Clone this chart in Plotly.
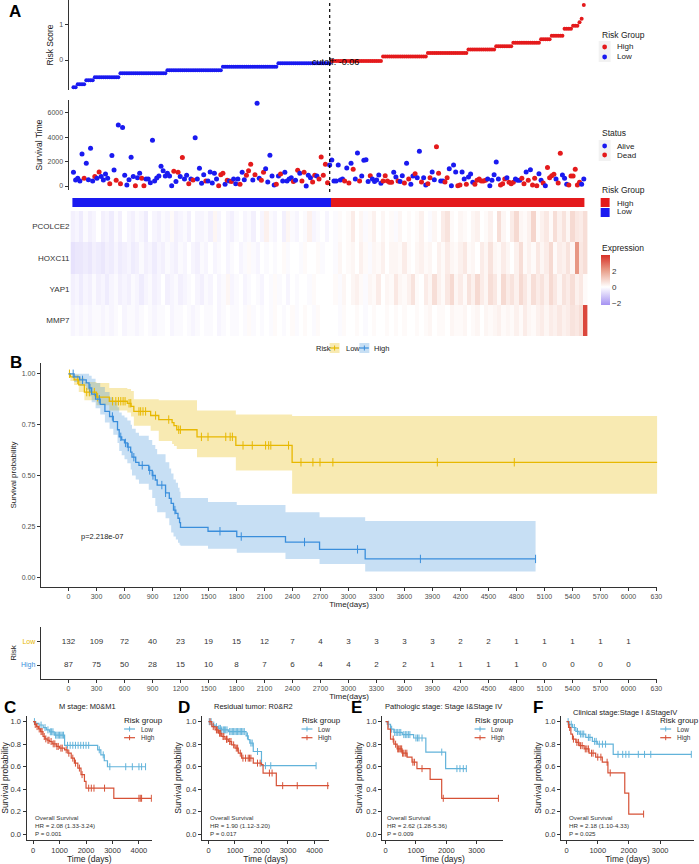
import plotly.graph_objects as go

W, H = 699, 864
def px(x): return x / W
def py(y): return 1 - y / H

FONT = "Liberation Sans, Arial, sans-serif"
RED = "#E41A1C"
BLUE = "#1A1AF0"

# ---------------- Panel A data ----------------
risk_levels_low = [-0.78, -0.69, -0.58, -0.49, -0.38, -0.29, -0.19, -0.09]
risk_counts_low = [2, 4, 4, 12, 22, 26, 26, 25]
risk_levels_high = [-0.03, 0.10, 0.20, 0.30, 0.39, 0.49, 0.59, 0.69, 0.89, 0.98, 1.08, 1.18, 1.57]
risk_counts_high = [24, 21, 19, 13, 8, 13, 5, 6, 4, 3, 1, 1, 1]
risk_cutoff = -0.06

survival_time = [
    1120, 490, 630, 410, 2630, 630, 1860, 520, 3100, 410,
    770, 630, 1150, 770, 490, 990, 630, 190, 2490, 1320,
    470, 5010, 190, 4790, 880, 80, 520, 2360, 770, 30,
    680, 1040, 630, 30, 580, 580, 270, 3750, 410, 660,
    820, 1620, 1260, 820, 1040, 820, 30, 1210, 360, 1120,
    770, 2330, 580, 880, 190, 580, 490, 3950, 580, 1450,
    220, 930, 410, 410, 1150, 250, 1040, 580, 30, 930,
    1040, 140, 470, 410, 360, 580, 190, 580, 140, 1120,
    520, 880, 1260, 1780, 490, 930, 6790, 630, 470, 1120,
    1420, 330, 2520, 820, 80, 140, 820, 990, 410, 1120,
    410, 580, 680, 360, 470, 1290, 1040, 410, 1120, 0,
    880, 680, 330, 880, 820, 580, 2380, 880, 1780, 270,
    1730,
    2140, 410, 410, 1730, 490, 580, 410, 1480, 250, 1860,
    1370, 580, 2710, 410, 820, 2110, 2160, 360, 850, 580,
    360, 490, 900, 220, 410, 850, 410, 300, 300, 1120,
    740, 410, 360, 850, 250, 1860, 580, 140, 820, 1010,
    680, 2850, 330, 680, 80, 190, 680, 1150, 520, 3210,
    1040, 410, 410, 330, 680, 1420, 30, 1730, 1150, 30,
    80, 1150, 580, 140, 740, 990, 300, 140, 470, 580,
    410, 410, 470, 580, 30, 470, 930, 1970, 580, 80,
    190, 580, 680, 300, 190, 300, 580, 470, 470, 630,
    190, 1150, 470, 1340, 80, 630, 30, 1010, 470, 250,
    30, 1510, 680, 850, 960, 580, 250, 2680, 900, 630,
    140, 80, 820, 820, 1370, 80, 300, 140, 580,
]
status_dead = [
    0, 0, 0, 0, 0, 1, 0, 0, 0, 0,
    1, 0, 1, 0, 0, 0, 0, 1, 0, 0,
    1, 0, 1, 0, 0, 0, 0, 0, 0, 1,
    0, 0, 1, 1, 0, 0, 0, 0, 0, 0,
    0, 0, 0, 0, 0, 0, 0, 1, 0, 1,
    0, 1, 0, 0, 1, 0, 1, 0, 0, 0,
    0, 0, 1, 0, 0, 0, 0, 0, 1, 1,
    1, 0, 1, 0, 1, 0, 0, 0, 1, 0,
    0, 1, 1, 1, 0, 1, 0, 0, 1, 1,
    0, 0, 0, 0, 0, 1, 0, 1, 0, 0,
    0, 0, 0, 1, 0, 1, 0, 1, 1, 0,
    0, 0, 1, 1, 0, 1, 1, 1, 1, 1,
    0,
    0, 0, 0, 0, 0, 0, 1, 0, 1, 0,
    1, 0, 0, 1, 0, 0, 0, 0, 1, 0,
    0, 0, 0, 0, 1, 1, 1, 1, 1, 0,
    0, 1, 0, 0, 1, 0, 1, 0, 0, 1,
    0, 0, 1, 0, 0, 1, 1, 0, 0, 1,
    1, 0, 0, 1, 1, 0, 0, 0, 0, 1,
    1, 0, 0, 1, 0, 0, 0, 1, 1, 1,
    1, 1, 1, 0, 0, 0, 0, 0, 0, 1,
    1, 1, 0, 1, 1, 1, 0, 0, 0, 1,
    1, 0, 1, 0, 1, 1, 1, 0, 0, 1,
    0, 1, 1, 1, 1, 0, 1, 1, 0, 0,
    0, 1, 1, 1, 1, 1, 1, 0, 0,
]

genes = ["PCOLCE2", "HOXC11", "YAP1", "MMP7"]
expr_PCOLCE2 = [
    -0.3, -0.2, -0.4, -0.1, -0.3, -0.2, 0.0, -0.3, -0.2, -0.4, -0.1, -0.3, 0.0, -0.2, -0.3,
    -0.1, -0.2, -0.4, 0.0, -0.2, -0.3, -0.1, -0.2, 0.1, -0.3, -0.2, -0.1, -0.3, 0.0, -0.2,
    -0.2, -0.1, -0.3, 0.2, -0.2, 0.0, -0.2, -0.3, -0.1, 0.0, -0.2, -0.1, -0.3, 0.0, -0.2,
    0.3, -0.1, -0.2, 0.0, -0.3, 0.2, -0.1, -0.2, 0.0, -0.1, 0.3, -0.2, -0.1, 0.0, -0.2,
    0.0, -0.1, 0.1, 0.0, 0.1, 0.4, 0.0, 0.2, -0.1, 0.1, 0.3, 0.0, 0.2, 0.0, 0.1,
    -0.1, 0.2, 0.0, 0.1, 0.0, 0.1, 0.3, 0.0, -0.1, 0.2, 0.0, 0.4, 0.6, 0.1, 0.0,
    0.2, 0.1, 0.0, 0.2, 0.3, 0.0, 0.1, 0.3, 0.0, 0.7, 0.2, 0.0, 0.4, 0.8, 0.2,
    0.1, 0.3, 0.9, 0.1, 0.3, 0.5, 0.1, 0.7, 0.3, 0.6, 0.2, 0.8, 0.5, 0.4, 0.7,
]
expr_HOXC11 = [
    -0.6, -0.5, -0.5, -0.4, -0.5, -0.3, -0.4, -0.5, -0.3, -0.4, -0.2, -0.4, -0.3, -0.2, -0.4,
    -0.3, -0.1, -0.3, -0.2, -0.4, -0.2, -0.3, -0.1, -0.2, -0.3, -0.1, -0.2, 0.0, -0.2, -0.3,
    -0.1, -0.2, 0.0, -0.2, -0.1, 0.0, -0.2, -0.1, 0.0, -0.2, -0.1, 0.1, -0.1, -0.2, 0.0,
    -0.1, 0.0, -0.1, 0.0, 0.1, -0.1, 0.0, 0.0, -0.1, 0.1, 0.0, 0.0, 0.1, -0.1, 0.0,
    0.0, -0.1, 0.2, 0.0, 0.1, 0.2, 0.0, 0.3, 0.1, -0.1, 0.2, 0.1, 0.3, 0.0, 0.2,
    0.2, 0.1, 0.4, 0.1, 0.0, 0.2, 0.3, 0.1, 0.2, 0.0, 0.3, 0.1, 0.4, 0.2, 0.1,
    0.3, 0.5, 0.1, 0.2, 0.0, 0.4, 0.2, 0.6, 0.2, 0.1, 0.4, 0.2, 0.0, 0.3, 0.7,
    0.1, 0.3, 0.1, 0.5, 0.2, 0.4, 0.8, 0.1, 0.4, 0.3, 0.6, 0.2, 2.2, 0.5, 0.7,
]
expr_YAP1 = [
    -0.3, -0.2, -0.4, -0.2, -0.3, -0.1, -0.3, -0.2, -0.4, -0.2, -0.1, -0.3, -0.2, -0.3, -0.1,
    -0.2, -0.4, -0.2, -0.1, -0.3, -0.2, 0.0, -0.3, -0.2, -0.1, -0.3, -0.2, -0.1, 0.0, -0.2,
    -0.3, -0.1, -0.2, 0.0, -0.2, -0.1, 0.2, -0.2, -0.1, 0.0, -0.2, -0.1, 0.0, -0.1, -0.2,
    0.0, -0.1, 0.1, -0.1, 0.0, -0.2, 0.0, -0.1, 0.0, 0.0, -0.1, 0.1, 0.0, 0.0, 0.0,
    0.0, 0.1, -0.1, 0.2, 0.0, 0.2, 0.3, 0.1, -0.1, 0.2, 0.1, 0.4, 0.0, 0.2, 0.1,
    0.5, 0.2, 0.1, 0.3, 0.6, 0.1, 0.0, 0.4, 0.2, 0.7, 0.3, 0.1, 0.5, 0.8, 0.2,
    0.4, 0.1, 0.6, 0.3, 0.8, 0.4, 0.2, 0.7, 0.5, 0.1, 0.8, 0.4, 0.6, 0.3, 0.8,
    0.5, 0.2, 0.7, 0.4, 0.6, 0.3, 0.8, 0.5, 0.2, 0.6, 0.4, 0.7, 0.3, 0.5, 0.1,
]
expr_MMP7 = [
    -0.2, -0.1, -0.2, -0.1, -0.2, -0.1, -0.1, -0.2, -0.1, -0.2, -0.1, 0.0, -0.2, -0.1, -0.1,
    -0.2, -0.1, 0.0, -0.1, -0.2, -0.1, -0.1, 0.0, -0.2, -0.1, -0.1, 0.0, -0.1, -0.2, -0.1,
    0.0, -0.1, -0.1, 0.0, -0.2, -0.1, 0.0, -0.1, -0.1, 0.0, -0.1, 0.1, -0.1, 0.0, -0.1,
    0.0, -0.1, 0.1, 0.0, -0.1, 0.0, 0.1, -0.1, 0.0, 0.1, 0.0, -0.1, 0.1, 0.0, 0.0,
    0.0, 0.0, -0.1, 0.1, 0.0, 0.0, 0.1, 0.0, -0.1, 0.0, 0.1, 0.0, 0.0, 0.1, 0.0,
    0.1, 0.0, 0.1, 0.0, 0.0, 0.1, 0.0, 0.1, 0.2, 0.0, 0.1, 0.1, 0.0, 0.2, 0.1,
    0.1, 0.2, 0.0, 0.1, 0.2, 0.0, 0.2, 0.1, 0.2, 0.3, 0.1, 0.2, 0.1, 0.3, 0.1,
    0.4, 0.2, 0.1, 0.3, 0.4, 0.2, 0.4, 0.3, 0.5, 0.3, 0.4, 0.6, 0.5, 0.7, 3.6,
]

# ---------------- Panel B data ----------------
b_low_t = [0, 20, 60, 110, 170, 300, 437, 630, 670, 700, 880, 967, 1110, 1130, 1160, 1377, 1793, 2396]
b_low_s = [1.0, 0.985, 0.97, 0.945, 0.91, 0.885, 0.865, 0.855, 0.84, 0.815, 0.795, 0.775, 0.76, 0.745, 0.725, 0.69, 0.648, 0.565]
b_low_lo = [1.0, 0.965, 0.945, 0.91, 0.87, 0.845, 0.82, 0.81, 0.79, 0.745, 0.72, 0.67, 0.655, 0.645, 0.63, 0.59, 0.525, 0.41]
b_low_hi = [1.0, 1.0, 0.995, 0.98, 0.96, 0.955, 0.93, 0.925, 0.915, 0.875, 0.875, 0.87, 0.87, 0.87, 0.87, 0.82, 0.80, 0.793]
b_low_end = 6310
b_low_cens = [10, 99, 195, 223, 277, 312, 472, 507, 535, 560, 585, 606, 649, 667, 755, 773, 798, 826, 933,
              1074, 1181, 1199, 1424, 1495, 1685, 1732, 1756, 1870, 1969, 2112, 2145, 2168, 2358, 2491,
              2619, 2695, 2833, 3952, 4777]

b_high_t = [0, 60, 120, 190, 220, 248, 290, 340, 390, 440, 480, 525, 543, 570, 600, 630, 666, 680, 720,
            755, 860, 897, 930, 950, 1040, 1080, 1100, 1125, 1150, 1173, 1190, 1200, 1495, 1803, 2325, 2690, 3179]
b_high_s = [1.0, 0.985, 0.97, 0.955, 0.93, 0.9, 0.875, 0.85, 0.815, 0.79, 0.765, 0.725, 0.69, 0.675, 0.66,
            0.64, 0.615, 0.59, 0.565, 0.55, 0.525, 0.5, 0.478, 0.453, 0.415, 0.388, 0.363, 0.33, 0.314,
            0.29, 0.268, 0.245, 0.226, 0.2, 0.173, 0.137, 0.09]
b_high_lo = [1.0, 0.96, 0.94, 0.92, 0.89, 0.86, 0.83, 0.80, 0.76, 0.73, 0.70, 0.66, 0.62, 0.60, 0.58,
             0.56, 0.53, 0.50, 0.48, 0.46, 0.43, 0.39, 0.35, 0.32, 0.29, 0.255, 0.22, 0.20, 0.185,
             0.17, 0.16, 0.155, 0.14, 0.12, 0.09, 0.065, 0.028]
b_high_hi = [1.0, 1.0, 1.0, 1.0, 0.99, 0.975, 0.955, 0.935, 0.91, 0.885, 0.865, 0.835, 0.81, 0.795, 0.785,
             0.77, 0.75, 0.73, 0.71, 0.695, 0.675, 0.65, 0.63, 0.605, 0.565, 0.535, 0.51, 0.48, 0.465,
             0.44, 0.42, 0.39, 0.37, 0.355, 0.32, 0.295, 0.277]
b_high_end = 5005
b_high_cens = [50, 150, 230, 330, 470, 560, 610, 640, 700, 790, 870, 905, 1000, 1040, 1140,
               1623, 1851, 2529, 3097, 3771, 5005]
b_pval = "p=2.218e-07"

table_times = [0, 300, 600, 900, 1200, 1500, 1800, 2100, 2400, 2700, 3000, 3300, 3600, 3900,
               4200, 4500, 4800, 5100, 5400, 5700, 6000]
table_low = [132, 109, 72, 40, 23, 19, 15, 12, 7, 4, 3, 3, 3, 3, 2, 2, 1, 1, 1, 1, 1]
table_high = [87, 75, 50, 28, 15, 10, 8, 7, 6, 4, 4, 2, 2, 1, 1, 1, 1, 0, 0, 0, 0]
b_tick_vals = table_times + [6300]
b_tick_text = [str(t) for t in table_times] + ["630"]

# ---------------- Panels C-F data ----------------
c_low_t = [0, 100, 220, 380, 500, 620, 800, 1190, 2440, 2560, 2690, 2810]
c_low_s = [1.0, 0.985, 0.97, 0.947, 0.927, 0.91, 0.88, 0.79, 0.75, 0.705, 0.653, 0.6]
c_low_end = 4250
c_low_cens = [50, 300, 450, 560, 650, 700, 750, 850, 900, 950, 1000, 1050, 1100, 1150, 1300, 1400, 1500,
              1600, 1700, 1800, 1900, 2000, 2100, 2500, 2650, 2900, 3500, 3750, 4000, 4100, 4250]
c_high_t = [0, 60, 125, 200, 280, 375, 450, 530, 625, 720, 875, 1000, 1190, 1310, 1440, 1560, 1690, 1810, 1940, 2000, 3050]
c_high_s = [1.0, 0.975, 0.956, 0.935, 0.912, 0.868, 0.847, 0.835, 0.824, 0.803, 0.78, 0.765, 0.75, 0.72,
            0.676, 0.632, 0.588, 0.53, 0.47, 0.41, 0.32]
c_high_end = 4470
c_high_cens = [80, 150, 230, 300, 340, 420, 480, 560, 600, 680, 760, 820, 900, 950, 1050, 1100, 1250, 1350,
               1500, 1600, 1750, 1850, 2100, 2200, 2300, 2700, 4000, 4050, 4100, 4470]

d_low_t = [0, 120, 250, 370, 500, 750, 1420, 1500, 1560, 1690, 2000]
d_low_s = [1.0, 0.97, 0.956, 0.94, 0.927, 0.912, 0.873, 0.84, 0.81, 0.735, 0.609]
d_low_end = 4060
d_low_cens = [30, 100, 200, 300, 400, 450, 500, 560, 600, 650, 700, 800, 850, 900, 950, 1000, 1050, 1100,
              1150, 1200, 1250, 1300, 1350, 1470, 1600, 1650, 1850, 2150, 2350, 4060]
d_high_t = [0, 125, 250, 375, 500, 625, 750, 875, 1000, 1125, 1250, 1690, 2000, 2060, 2560]
d_high_s = [1.0, 0.956, 0.927, 0.897, 0.868, 0.844, 0.824, 0.794, 0.765, 0.72, 0.676, 0.632, 0.618, 0.544, 0.432]
d_high_end = 4560
d_high_cens = [60, 180, 300, 330, 420, 460, 550, 580, 680, 700, 800, 850, 950, 1050, 1100, 1200, 1300, 1400,
               1500, 1550, 1600, 1850, 1950, 2300, 2400, 2800, 3350, 4500]

e_low_t = [0, 54, 163, 272, 550, 924, 1326, 1978]
e_low_s = [1.0, 0.977, 0.933, 0.904, 0.885, 0.855, 0.73, 0.583]
e_low_end = 2660
e_low_cens = [100, 200, 300, 350, 400, 450, 500, 600, 650, 700, 750, 800, 1000, 1050, 1100, 1200, 1850,
              2350, 2450, 2560, 2660]
e_high_t = [0, 76, 163, 272, 380, 543, 707, 870, 1033, 1467, 1848]
e_high_s = [1.0, 0.933, 0.845, 0.8, 0.758, 0.72, 0.685, 0.64, 0.583, 0.487, 0.32]
e_high_end = 3717
e_high_cens = [250, 330, 400, 430, 470, 500, 530, 560, 600, 650, 700, 900, 950, 1200, 1900, 3717]

f_low_t = [0, 85, 191, 297, 403, 615, 827, 986, 1495]
f_low_s = [1.0, 0.977, 0.948, 0.913, 0.89, 0.86, 0.825, 0.80, 0.71]
f_low_end = 4000
f_low_cens = [50, 150, 250, 350, 450, 500, 550, 700, 750, 900, 950, 1050, 1150, 1250, 1650, 1800, 1900,
              2000, 2300, 2500, 2700, 4000]
f_high_t = [0, 64, 138, 191, 297, 403, 562, 721, 933, 1145, 1326, 1866, 1994]
f_high_s = [1.0, 0.948, 0.89, 0.845, 0.816, 0.787, 0.758, 0.72, 0.685, 0.64, 0.545, 0.365, 0.18]
f_high_end = 2470
f_high_cens = [100, 220, 330, 380, 450, 500, 600, 650, 700, 800, 850, 1000, 1100, 1300, 1400, 2470]

sub_titles = ["M stage: M0&M1", "Residual tumor: R0&R2", "Pathologic stage: Stage I&Stage IV",
              "Clinical stage:Stage I &StageIV"]
sub_hr = ["HR = 2.08 (1.33-3.24)", "HR = 1.90 (1.12-3.20)", "HR = 2.62 (1.28-5.36)", "HR = 2.18 (1.10-4.33)"]
sub_p = ["P = 0.001", "P = 0.017", "P = 0.009", "P = 0.025"]

# ---------------- build ----------------
fig = go.Figure()
shapes = []
annotations = []

def text(t, x, y, size=8, color="#222222", xanchor="left", yanchor="middle", bold=False):
    annotations.append(dict(text=f"<b>{t}</b>" if bold else t, x=px(x), y=py(y), xref="paper", yref="paper",
                            xanchor=xanchor, yanchor=yanchor, showarrow=False,
                            font=dict(size=size, color=color, family=FONT)))

def rect(x0, y0, x1, y1, fill):
    shapes.append(dict(type="rect", xref="paper", yref="paper", x0=px(x0), x1=px(x1), y0=py(y1), y1=py(y0),
                       fillcolor=fill, line=dict(width=0), layer="above"))

def seg(x0, y0, x1, y1, color, width=1.0):
    shapes.append(dict(type="line", xref="paper", yref="paper", x0=px(x0), x1=px(x1), y0=py(y0), y1=py(y1),
                       line=dict(color=color, width=width), layer="above"))

def dot(x, y, color, r=2.4):
    shapes.append(dict(type="circle", xref="paper", yref="paper", x0=px(x - r), x1=px(x + r), y0=py(y + r),
                       y1=py(y - r), fillcolor=color, line=dict(width=0), layer="above"))

# Panel A
risk_scores = []
for lv, n in zip(risk_levels_low + risk_levels_high, risk_counts_low + risk_counts_high):
    risk_scores += [lv] * n
idx = list(range(1, len(risk_scores) + 1))
is_high = [1 if s > risk_cutoff else 0 for s in risk_scores]
fig.add_trace(go.Scatter(x=idx, y=risk_scores, mode="markers", xaxis="x", yaxis="y",
                         marker=dict(size=4, color=[RED if h else BLUE for h in is_high]),
                         showlegend=False, hoverinfo="skip"))
n_low = sum(1 for h in is_high if h == 0)

sidx = list(range(1, len(survival_time) + 1))
fig.add_trace(go.Scatter(x=sidx, y=survival_time, mode="markers", xaxis="x2", yaxis="y2",
                         marker=dict(size=5, color=[RED if d else BLUE for d in status_dead]),
                         showlegend=False, hoverinfo="skip"))

fig.add_trace(go.Heatmap(z=[is_high], x=idx, y=[0], xaxis="x3", yaxis="y3", zmin=0, zmax=1,
                         colorscale=[[0, BLUE], [1, RED]], showscale=False, hoverinfo="skip"))

expr = [expr_PCOLCE2, expr_HOXC11, expr_YAP1, expr_MMP7]
fig.add_trace(go.Heatmap(z=expr, x0=1.5, dx=2, y=genes, xaxis="x4", yaxis="y4", zmin=-2.25, zmax=4.0,
                         colorscale=[[0, "#A592F2"], [0.36, "#FFFFFF"], [0.68, "#E9A28E"], [1, "#D73027"]],
                         hoverinfo="skip",
                         colorbar=dict(x=px(605), xanchor="left", y=py(280), yanchor="middle",
                                       len=50, lenmode="pixels", thickness=9, thicknessmode="pixels",
                                       tickvals=[-2, 0, 2], ticks="", outlinewidth=0, xpad=0, ypad=0,
                                       tickfont=dict(size=8, color="#333333", family=FONT))))

shapes.append(dict(type="line", xref="x", yref="paper", x0=n_low, x1=n_low, y0=py(192), y1=py(0),
                   line=dict(color="black", width=1.2, dash="dot")))
annotations.append(dict(text=f"cutoff: {risk_cutoff}", x=n_low + 2.5, y=risk_cutoff, xref="x", yref="y",
                        showarrow=False, font=dict(size=9, color="black", family=FONT)))

# ---------------- KM helpers ----------------
def step_at(times, surv, t):
    v = surv[0]
    for ti, si in zip(times, surv):
        if ti <= t:
            v = si
        else:
            break
    return v

def add_ci(times, lo, hi, end, fillcol, xa, ya):
    fig.add_trace(go.Scatter(x=times + [end], y=lo + [lo[-1]], mode="lines", line=dict(width=0, shape="hv"),
                             xaxis=xa, yaxis=ya, showlegend=False, hoverinfo="skip"))
    fig.add_trace(go.Scatter(x=times + [end], y=hi + [hi[-1]], mode="lines", line=dict(width=0, shape="hv"),
                             fill="tonexty", fillcolor=fillcol, xaxis=xa, yaxis=ya, showlegend=False,
                             hoverinfo="skip"))

def add_km(times, surv, end, cens, color, xa, ya, lw=1.3, ms=6):
    fig.add_trace(go.Scatter(x=times + [end], y=surv + [surv[-1]], mode="lines",
                             line=dict(color=color, width=lw, shape="hv"), xaxis=xa, yaxis=ya,
                             showlegend=False, hoverinfo="skip"))
    fig.add_trace(go.Scatter(x=cens, y=[step_at(times, surv, c) for c in cens], mode="markers",
                             marker=dict(symbol="line-ns-open", size=ms, color=color,
                                         line=dict(color=color, width=1)),
                             xaxis=xa, yaxis=ya, showlegend=False, hoverinfo="skip"))

LOWC = "#E7B800"
HIGHC = "#3A8EDB"
add_ci(b_low_t, b_low_lo, b_low_hi, b_low_end, "rgba(231,184,0,0.30)", "x5", "y5")
add_ci(b_high_t, b_high_lo, b_high_hi, b_high_end, "rgba(70,150,220,0.30)", "x5", "y5")
add_km(b_low_t, b_low_s, b_low_end, b_low_cens, LOWC, "x5", "y5")
add_km(b_high_t, b_high_s, b_high_end, b_high_cens, HIGHC, "x5", "y5")
annotations.append(dict(text=b_pval, x=360, y=0.198, xref="x5", yref="y5", showarrow=False,
                        font=dict(size=7.5, color="#222222", family=FONT)))

fig.add_trace(go.Scatter(x=table_times, y=[1] * len(table_times), text=[str(v) for v in table_low],
                         mode="text", textfont=dict(size=8, color="#333333", family=FONT),
                         xaxis="x6", yaxis="y6", showlegend=False, hoverinfo="skip"))
fig.add_trace(go.Scatter(x=table_times, y=[0] * len(table_times), text=[str(v) for v in table_high],
                         mode="text", textfont=dict(size=8, color="#333333", family=FONT),
                         xaxis="x6", yaxis="y6", showlegend=False, hoverinfo="skip"))

SLOW = "#62B3DA"
SHIGH = "#D65136"
sub = [
    (c_low_t, c_low_s, c_low_end, c_low_cens, c_high_t, c_high_s, c_high_end, c_high_cens),
    (d_low_t, d_low_s, d_low_end, d_low_cens, d_high_t, d_high_s, d_high_end, d_high_cens),
    (e_low_t, e_low_s, e_low_end, e_low_cens, e_high_t, e_high_s, e_high_end, e_high_cens),
    (f_low_t, f_low_s, f_low_end, f_low_cens, f_high_t, f_high_s, f_high_end, f_high_cens),
]
for k, (lt, ls, le, lc, ht, hs, he, hc) in enumerate(sub):
    xa, ya = f"x{7 + k}", f"y{7 + k}"
    add_km(lt, ls, le, lc, SLOW, xa, ya, lw=1.2, ms=5)
    add_km(ht, hs, he, hc, SHIGH, xa, ya, lw=1.2, ms=5)

# ---------------- axes ----------------
def ax(domain, rng, anchor, **kw):
    d = dict(domain=domain, anchor=anchor, showgrid=False, zeroline=False, showline=True,
             linecolor="#333333", linewidth=1, ticks="outside", ticklen=3, tickwidth=1, tickcolor="#333333",
             tickfont=dict(size=7, color="#4D4D4D", family=FONT))
    if rng is not None:
        d["range"] = rng
    d.update(kw)
    return d

def ttl(t, size=8, standoff=3):
    return dict(text=t, font=dict(size=size, color="#222222", family=FONT), standoff=standoff)

xA = [px(69), px(595)]
xA_range = [-1.325, 243.26]
layout = dict(
    width=W, height=H, margin=dict(l=0, r=0, t=0, b=0), paper_bgcolor="white", plot_bgcolor="white",
    showlegend=False, font=dict(family=FONT),
    xaxis=ax(xA, xA_range, "y", visible=False),
    yaxis=ax([py(90), py(0)], [-0.857, 1.714], "x", tickvals=[0, 1], title=ttl("Risk Score", 8.5, 4)),
    xaxis2=ax(xA, xA_range, "y2", visible=False),
    yaxis2=ax([py(190), py(100)], [-328, 7049], "x2", tickvals=[0, 2000, 4000, 6000],
              title=ttl("Survival Time", 8.5, 3)),
    xaxis3=ax(xA, xA_range, "y3", visible=False),
    yaxis3=ax([py(207), py(198)], [-0.5, 0.5], "x3", visible=False),
    xaxis4=ax([px(71), px(592)], [0.5, 240.5], "y4", visible=False),
    yaxis4=ax([py(336), py(211)], None, "x4", autorange="reversed", showline=False, ticks="",
              tickfont=dict(size=8, color="#333333", family=FONT)),
    xaxis5=ax([px(41), px(662)], [-298, 6309], "y5", tickvals=b_tick_vals, ticktext=b_tick_text,
              title=ttl("Time(days)", 8, 1)),
    yaxis5=ax([py(587), py(363)], [-0.048, 1.053], "x5", tickvals=[0, 0.25, 0.5, 0.75, 1.0],
              ticktext=["0.00", "0.25", "0.50", "0.75", "1.00"], title=ttl("Survival probability", 8, 3)),
    xaxis6=ax([px(41), px(662)], [-298, 6309], "y6", tickvals=b_tick_vals, ticktext=b_tick_text,
              title=ttl("Time(days)", 8, 1)),
    yaxis6=ax([py(679), py(627)], [-0.6, 1.63], "x6", tickvals=[0, 1],
              ticktext=[f'<span style="color:{HIGHC}">High</span>', f'<span style="color:{LOWC}">Low</span>'],
              title=ttl("Risk", 8, 3)),
)
sub_x = [([26.7, 153], [-250, 4490], [0, 1000, 2000, 3000, 4000]),
         ([203.3, 331.7], [-250, 4560], [0, 1000, 2000, 3000, 4000]),
         ([385, 506.7], [-110, 3870], [0, 1000, 2000, 3000]),
         ([565, 699], [-180, 4086], [0, 1000, 2000, 3000])]
for k, (dom, rng, tv) in enumerate(sub_x):
    layout[f"xaxis{7 + k}"] = ax([px(dom[0]), px(dom[1])], rng, f"y{7 + k}", tickvals=tv,
                                 tickfont=dict(size=7.5, color="#333333", family=FONT),
                                 title=ttl("Time (days)", 8.5, 1))
    layout[f"yaxis{7 + k}"] = ax([py(840), py(716)], [-0.05, 1.05], f"x{7 + k}",
                                 tickvals=[0, 0.2, 0.4, 0.6, 0.8, 1.0],
                                 ticktext=["0.0", "0.2", "0.4", "0.6", "0.8", "1.0"],
                                 tickfont=dict(size=7.5, color="#333333", family=FONT),
                                 title=ttl("Survival probability", 8.5, 2))

# ---------------- legends & labels ----------------
text("Risk Group", 604, 35, 8.5)
rect(603, 41, 615, 52, "#F2F2F2"); rect(603, 52, 615, 62, "#F2F2F2")
dot(609, 47, RED); dot(609, 57, BLUE)
text("High", 619, 47, 8); text("Low", 619, 57, 8)
text("Status", 604, 133, 8.5)
rect(603, 140, 615, 151, "#F2F2F2"); rect(603, 151, 615, 161, "#F2F2F2")
dot(609, 146, BLUE); dot(609, 155, RED)
text("Alive", 619, 146, 8); text("Dead", 619, 155, 8)
text("Risk Group", 604, 190, 8.5)
rect(605, 198, 614, 207, RED); rect(605, 208, 614, 217, BLUE)
text("High", 619, 203, 8); text("Low", 619, 212, 8)
text("Expression", 604, 248, 8.5)

text("Risk", 316, 348, 7.5)
rect(332, 343, 342, 353, "rgba(231,184,0,0.30)")
seg(332.5, 348, 341.5, 348, LOWC, 1.2); seg(337, 345.5, 337, 350.5, LOWC, 1)
text("Low", 346, 348, 7.5)
rect(362, 343, 372, 353, "rgba(70,150,220,0.30)")
seg(362.5, 348, 371.5, 348, HIGHC, 1.2); seg(367, 345.5, 367, 350.5, HIGHC, 1)
text("High", 375, 348, 7.5)

for lab, x, y in [("A", 7, 11), ("B", 8, 363), ("C", 2, 707), ("D", 177, 707), ("E", 352, 707), ("F", 535, 707)]:
    text(lab, x, y, 17, "black", bold=True)

title_pos = [(88, 706), (255, 706), (447, 706), (630, 712)]
leg_x = [123, 301.7, 476, 663]
stat_x = [33, 210, 388, 571]
for k in range(4):
    text(sub_titles[k], title_pos[k][0], title_pos[k][1], 7.5, "#222222", xanchor="center")
    lx = leg_x[k]
    text("Risk group", lx, 720, 8, "#222222")
    for yy, col, lab in [(729, SLOW, "Low"), (737.7, SHIGH, "High")]:
        seg(lx + 2, yy, lx + 13, yy, col, 1.2)
        seg(lx + 7.5, yy - 2.5, lx + 7.5, yy + 2.5, col, 1)
        text(lab, lx + 17, yy, 6.5, "#333333")
    text("Overall Survival", stat_x[k], 817, 6.2, "#333333")
    text(sub_hr[k], stat_x[k], 825, 6.2, "#333333")
    text(sub_p[k], stat_x[k], 833, 6.2, "#333333")

layout["shapes"] = shapes
layout["annotations"] = annotations
fig.update_layout(**layout)
fig.write_html("out.html", config={"displayModeBar": False},
               post_script="document.body.style.margin='0';document.body.style.padding='0';")
